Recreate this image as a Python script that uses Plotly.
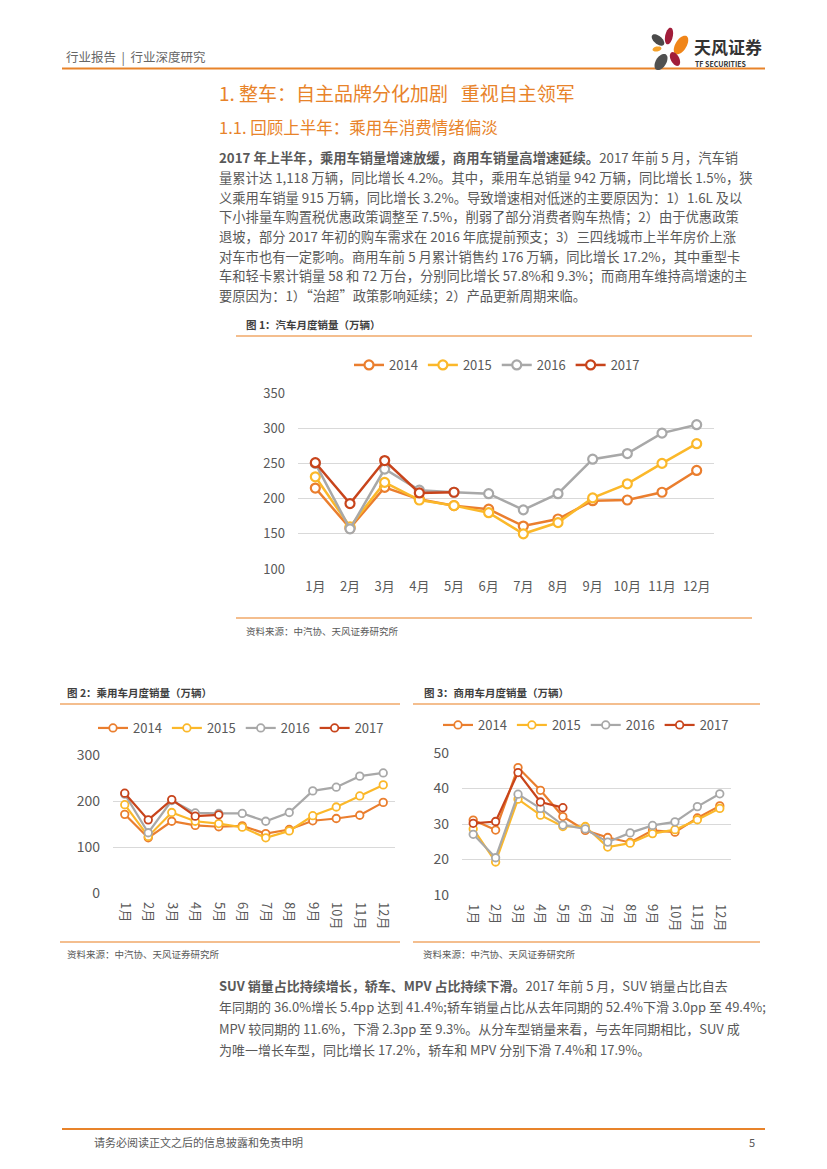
import numpy as np
import plotly.graph_objects as go

W, H = 827, 1169
OFF = 8                      # page body margin of the html page
FW, FH = W - 2 * OFF, H - 2 * OFF
FONT = "Noto Sans CJK SC"

# ---------------- data ----------------
months = ["1月", "2月", "3月", "4月", "5月", "6月", "7月", "8月", "9月", "10月", "11月", "12月"]
years = ["2014", "2015", "2016", "2017"]
colors = {"2014": "#EA7E2E", "2015": "#FBB82A", "2016": "#A8A8A8", "2017": "#C8441B"}

# 图1 汽车月度销量（万辆）
auto_2014 = [215, 158, 216, 199, 190, 185, 161, 171, 197, 198, 209, 240]
auto_2015 = [231, 160, 223, 198, 190, 180, 150, 166, 201, 221, 250, 278]
auto_2016 = [250, 157, 242, 212, 209, 207, 184, 207, 256, 264, 293, 305]
auto_2017 = [251, 193, 254, 208, 209]

# 图2 乘用车月度销量（万辆）
pv_2014 = [171, 120, 156, 147, 144, 146, 129, 138, 157, 162, 169, 197]
pv_2015 = [192, 123, 175, 156, 151, 143, 120, 135, 168, 187, 211, 235]
pv_2016 = [215, 131, 201, 174, 173, 173, 156, 175, 222, 230, 254, 261]
pv_2017 = [217, 159, 203, 167, 170]

# 图3 商用车月度销量（万辆）
cv_2014 = [31.1, 28.3, 45.9, 39.5, 32.1, 28.2, 26.2, 24.8, 28.2, 27.7, 31.7, 35.1]
cv_2015 = [28.6, 19.3, 37.0, 32.5, 29.3, 29.3, 23.5, 24.6, 27.3, 28.4, 31.2, 34.4]
cv_2016 = [27.1, 20.5, 38.4, 34.4, 29.7, 28.6, 24.9, 27.5, 29.6, 30.6, 34.9, 38.5]
cv_2017 = [30.2, 30.7, 44.5, 36.2, 34.6]

y_ticks1 = [100, 150, 200, 250, 300, 350]
y_ticks2 = [0, 100, 200, 300]
y_ticks3 = [10, 20, 30, 40, 50]

para1 = [
    "<b>2017 年上半年，乘用车销量增速放缓，商用车销量高增速延续。</b>2017 年前 5 月，汽车销",
    "量累计达 1,118 万辆，同比增长 4.2%。其中，乘用车总销量 942 万辆，同比增长 1.5%，狭",
    "义乘用车销量 915 万辆，同比增长 3.2%。导致增速相对低迷的主要原因为：1）1.6L 及以",
    "下小排量车购置税优惠政策调整至 7.5%，削弱了部分消费者购车热情；2）由于优惠政策",
    "退坡，部分 2017 年初的购车需求在 2016 年底提前预支；3）三四线城市上半年房价上涨",
    "对车市也有一定影响。商用车前 5 月累计销售约 176 万辆，同比增长 17.2%，其中重型卡",
    "车和轻卡累计销量 58 和 72 万台，分别同比增长 57.8%和 9.3%；而商用车维持高增速的主",
    "要原因为：1）“治超”政策影响延续；2）产品更新周期来临。",
]
para2 = [
    "<b>SUV 销量占比持续增长，轿车、MPV 占比持续下滑。</b>2017 年前 5 月，SUV 销量占比自去",
    "年同期的 36.0%增长 5.4pp 达到 41.4%;轿车销量占比从去年同期的 52.4%下滑 3.0pp 至 49.4%;",
    "MPV 较同期的 11.6%，下滑 2.3pp 至 9.3%。从分车型销量来看，与去年同期相比，SUV 成",
    "为唯一增长车型，同比增长 17.2%，轿车和 MPV 分别下滑 7.4%和 17.9%。",
]


def px(x):
    return (x - OFF) / FW


def py(y):
    return 1 - (y - OFF) / FH


fig = go.Figure()

charts = [
    (1, [auto_2014, auto_2015, auto_2016, auto_2017], 2.5, 9, 2.2),
    (2, [pv_2014, pv_2015, pv_2016, pv_2017], 2.2, 7.5, 1.8),
    (3, [cv_2014, cv_2015, cv_2016, cv_2017], 2.2, 7.5, 1.8),
]
for idx, series, lw, ms, mlw in charts:
    sfx = "" if idx == 1 else str(idx)
    for yr, vals in zip(years, series):
        fig.add_trace(go.Scatter(
            x=months[:len(vals)], y=vals, name=yr, mode="lines+markers",
            line=dict(color=colors[yr], width=lw),
            marker=dict(symbol="circle", size=ms, color="white",
                        line=dict(color=colors[yr], width=mlw)),
            xaxis="x" + sfx, yaxis="y" + sfx, legend="legend" + sfx,
            hoverinfo="skip",
        ))

grid = "#D9D9D9"


def yax(dom, anchor, rng, ticks, size):
    return dict(domain=[py(dom[1]), py(dom[0])], anchor=anchor, range=rng, tickvals=ticks,
                showgrid=True, gridcolor=grid, gridwidth=1, zeroline=False,
                showline=False, ticks="", ticklabelstandoff=12, automargin=False,
                tickfont=dict(family=FONT, size=size, color="#595959"), fixedrange=True)


def xax(dom, anchor, angle, size):
    return dict(domain=[px(dom[0]), px(dom[1])], anchor=anchor, type="category",
                categoryorder="array", categoryarray=months, range=[-0.5, 11.5],
                showgrid=False, zeroline=False, showline=False, ticks="",
                tickangle=angle, ticklabelstandoff=8, automargin=False,
                tickfont=dict(family=FONT, size=size, color="#595959"), fixedrange=True)


leg = lambda x, y, size: dict(orientation="h", x=px(x), y=py(y), xanchor="center", yanchor="middle",
                              font=dict(family=FONT, size=size, color="#595959"),
                              bgcolor="rgba(0,0,0,0)", itemwidth=30, tracegroupgap=0,
                              itemclick=False, itemdoubleclick=False)

fig.update_layout(
    width=FW, height=FH, margin=dict(l=0, r=0, t=0, b=0, pad=0, autoexpand=False),
    paper_bgcolor="white", plot_bgcolor="white",
    font=dict(family=FONT, color="#595959"),
    xaxis=xax((298, 714), "y", 0, 13),
    yaxis=yax((393, 569), "x", [100, 350], y_ticks1, 13),
    xaxis2=xax((113, 395), "y2", 90, 13),
    yaxis2=yax((755, 893), "x2", [0, 300], y_ticks2, 14),
    xaxis3=xax((462, 731), "y3", 90, 13),
    yaxis3=yax((753, 895), "x3", [10, 50], y_ticks3, 14),
    legend=leg(497, 365, 13),
    legend2=leg(241, 728, 13),
    legend3=leg(586, 725, 13),
    hovermode=False,
)

ann = []
shapes = []


def text(x, y, s, size, color="#595959", anchor="left", bold=False):
    ann.append(dict(x=px(x), y=py(y), xref="paper", yref="paper", text=("<b>%s</b>" % s) if bold else s,
                    showarrow=False, xanchor=anchor, yanchor="middle",
                    font=dict(family=FONT, size=size, color=color)))


def hline(x0, x1, y, color, w):
    shapes.append(dict(type="line", xref="paper", yref="paper", x0=px(x0), x1=px(x1),
                       y0=py(y), y1=py(y), line=dict(color=color, width=w)))


ORANGE = "#E8832A"
RULE = "#F0A868"

# header
text(64, 57, "行业报告  |  行业深度研究", 12.5, "#666666")
hline(62, 765, 68.5, ORANGE, 2.2)


def petal(cx, cy, a, b, ang, color):
    t = np.linspace(0, 2 * np.pi, 40)
    r = np.deg2rad(ang)
    xs = cx + a * np.cos(t) * np.cos(r) - b * np.sin(t) * np.sin(r)
    ys = cy - (a * np.cos(t) * np.sin(r) + b * np.sin(t) * np.cos(r))
    path = "M " + " L ".join("%.5f,%.5f" % (px(u), py(v)) for u, v in zip(xs, ys)) + " Z"
    shapes.append(dict(type="path", xref="paper", yref="paper", path=path,
                       fillcolor=color, line=dict(width=0)))


petal(669, 36, 8.5, 3.8, 78, "#A11D3A")
petal(681, 45, 10.5, 5.5, 58, "#F08519")
petal(658, 40, 7.5, 4.0, -40, "#4A4A4A")
petal(657, 49, 4.5, 2.5, 12, "#F5A12A")
petal(675, 59, 7.5, 4.2, -62, "#A11D3A")
petal(661, 62, 9.0, 5.2, 58, "#505050")
text(692, 46, "天风证券", 17, "#333333", bold=True)
text(693, 64, "TF SECURITIES", 7, "#333333", bold=True)

# titles
text(217, 92, "1. 整车：自主品牌分化加剧   重视自主领军", 19, ORANGE)
text(217, 127, "1.1. 回顾上半年：乘用车消费情绪偏淡", 16.5, ORANGE)

for i, line in enumerate(para1):
    text(217, 158 + i * 19.6, line, 13.3, "#595959")

# chart 1 frame
text(244, 324, "图 1：汽车月度销量（万辆）", 10.5, "#404040", bold=True)
hline(236, 752, 336, RULE, 1.3)
hline(236, 752, 618, RULE, 1.3)
text(244, 631, "资料来源：中汽协、天风证券研究所", 9.5, "#595959")

# chart 2 frame
text(65, 692, "图 2：乘用车月度销量（万辆）", 10.5, "#404040", bold=True)
hline(60, 400, 704, RULE, 1.3)
hline(60, 400, 942, RULE, 1.3)
text(65, 954, "资料来源：中汽协、天风证券研究所", 9.5, "#595959")

# chart 3 frame
text(422, 692, "图 3：商用车月度销量（万辆）", 10.5, "#404040", bold=True)
hline(413, 760, 704, RULE, 1.3)
hline(413, 760, 942, RULE, 1.3)
text(421, 954, "资料来源：中汽协、天风证券研究所", 9.5, "#595959")

for i, line in enumerate(para2):
    text(217, 985 + i * 21.5, line, 13, "#595959")

# footer
hline(62, 765, 1129, ORANGE, 2.2)
text(92, 1142, "请务必阅读正文之后的信息披露和免责申明", 11, "#595959")
text(757, 1142, "5", 11, "#595959", anchor="right")

fig.update_layout(annotations=ann, shapes=shapes)
fig.write_html("out.html")
